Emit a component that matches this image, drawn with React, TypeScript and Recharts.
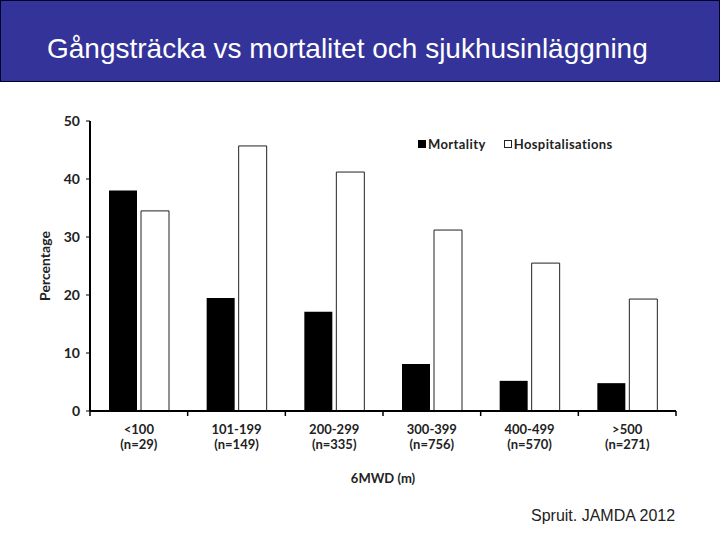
import React from 'react';
import { BarChart, Bar, XAxis, YAxis, Legend } from 'recharts';

const categories = ['<100', '101-199', '200-299', '300-399', '400-499', '>500'];
const groupSizes = ['(n=29)', '(n=149)', '(n=335)', '(n=756)', '(n=570)', '(n=271)'];
const mortality = [38, 19.5, 17.1, 8.1, 5.2, 4.8];
const hospitalisations = [34.5, 45.7, 41.2, 31.2, 25.5, 19.3];
const yTicks = [0, 10, 20, 30, 40, 50];

const chartFont = 'Lato, "Open Sans", sans-serif';

const CHART_W = 720;
const CHART_H = 540;
const MARGIN = { top: 121, right: 44, bottom: 57, left: 50 };
const Y_AXIS_W = 40;
// half the width of one category band, used to put tick marks on the band edges
const HALF_BAND = (CHART_W - MARGIN.left - MARGIN.right - Y_AXIS_W) / categories.length / 2;

const data = categories.map((name, i) => ({
  name,
  n: groupSizes[i],
  mortality: mortality[i],
  hospitalisations: hospitalisations[i],
}));

function CategoryTick(props: any) {
  const { x, y, payload, index } = props;
  return (
    <g transform={`translate(${x},${y})`}>
      <line x1={-HALF_BAND} x2={-HALF_BAND} y1={-8} y2={-3} stroke="#000" strokeWidth={1.5} />
      {index === categories.length - 1 && (
        <line x1={HALF_BAND} x2={HALF_BAND} y1={-8} y2={-3} stroke="#000" strokeWidth={1.5} />
      )}
      <text textAnchor="middle" fontFamily={chartFont} fontWeight={700} fontSize={13} fill="#222">
        <tspan x={0} dy={15}>{payload.value}</tspan>
        <tspan x={0} dy={14.5}>{groupSizes[index]}</tspan>
      </text>
    </g>
  );
}

function LegendContent() {
  const txt = { fontFamily: chartFont, fontWeight: 700, fontSize: 13, color: '#222', letterSpacing: 0.4 };
  return (
    <div style={{ display: 'flex', alignItems: 'center', whiteSpace: 'nowrap', ...txt }}>
      <span style={{ width: 8, height: 8, background: '#000', display: 'inline-block', marginRight: 2 }} />
      <span>Mortality</span>
      <span style={{ width: 6, height: 6, border: '1px solid #222', background: '#fff', display: 'inline-block', marginLeft: 18, marginRight: 2 }} />
      <span>Hospitalisations</span>
    </div>
  );
}

export default function App() {
  return (
    <div style={{ position: 'absolute', left: 0, top: 0, width: 720, height: 540, background: '#fff', overflow: 'hidden' }}>
      <div
        style={{
          position: 'absolute', left: 0, top: 0, width: 718, height: 80,
          background: '#333399', border: '1px solid #000022',
        }}
      />
      <div
        style={{
          position: 'absolute', left: 47, top: 33, color: '#fff',
          fontFamily: '"Liberation Sans", Arial, sans-serif', fontSize: 28, whiteSpace: 'nowrap',
        }}
      >
        Gångsträcka vs mortalitet och sjukhusinläggning
      </div>
      <div style={{ position: 'absolute', left: 0, top: 0 }}>
        <BarChart
          width={CHART_W}
          height={CHART_H}
          data={data}
          margin={MARGIN}
          barSize={28}
          barGap={4}
        >
          <XAxis
            dataKey="name"
            height={72}
            axisLine={{ stroke: '#000', strokeWidth: 2 }}
            tickLine={false}
            tick={<CategoryTick />}
            interval={0}
            label={{
              value: '6MWD (m)', position: 'insideBottom', offset: 0,
              style: { fontFamily: chartFont, fontWeight: 700, fontSize: 13, fill: '#222' },
            }}
          />
          <YAxis
            width={Y_AXIS_W}
            domain={[0, 50]}
            ticks={yTicks}
            interval={0}
            axisLine={{ stroke: '#000', strokeWidth: 2 }}
            tickLine={{ stroke: '#000', strokeWidth: 1 }}
            tickSize={4}
            tickMargin={6}
            tick={{ fontFamily: chartFont, fontWeight: 700, fontSize: 14, fill: '#222' }}
            label={{
              value: 'Percentage', angle: -90, position: 'insideLeft', offset: -5,
              style: { fontFamily: chartFont, fontWeight: 700, fontSize: 14, fill: '#222', textAnchor: 'middle' },
            }}
          />
          <Legend
            layout="vertical"
            align="center"
            verticalAlign="middle"
            wrapperStyle={{ top: 136, left: 418, width: 'auto' }}
            content={<LegendContent />}
          />
          <Bar dataKey="mortality" name="Mortality" fill="#000" isAnimationActive={false} />
          <Bar
            dataKey="hospitalisations"
            name="Hospitalisations"
            fill="#fff"
            stroke="#222"
            strokeWidth={1}
            isAnimationActive={false}
          />
        </BarChart>
      </div>
      <div
        style={{
          position: 'absolute', left: 531, top: 507, color: '#222',
          fontFamily: '"Liberation Sans", Arial, sans-serif', fontSize: 16, whiteSpace: 'nowrap',
        }}
      >
        Spruit. JAMDA 2012
      </div>
    </div>
  );
}
